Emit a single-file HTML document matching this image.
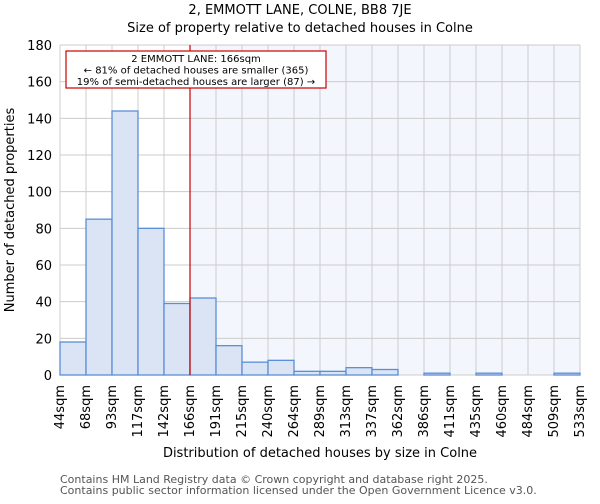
<!DOCTYPE html>
<html><head><meta charset="utf-8"><style>
body{margin:0;background:#fff;font-family:"DejaVu Sans","Liberation Sans",sans-serif;}
</style></head><body>
<svg id="chart" width="600" height="500" xmlns="http://www.w3.org/2000/svg" font-family="DejaVu Sans, Liberation Sans, sans-serif">
<text x="300" y="14" text-anchor="middle" font-size="13">2, EMMOTT LANE, COLNE, BB8 7JE</text>
<text x="300" y="32" text-anchor="middle" font-size="13">Size of property relative to detached houses in Colne</text>
<g id="plot"></g>
<text x="320" y="457" text-anchor="middle" font-size="13">Distribution of detached houses by size in Colne</text>
<text transform="translate(14,210) rotate(-90)" text-anchor="middle" font-size="13">Number of detached properties</text>
<text x="60" y="483" font-size="11" fill="#555">Contains HM Land Registry data © Crown copyright and database right 2025.</text>
<text x="60" y="494" font-size="11" fill="#555">Contains public sector information licensed under the Open Government Licence v3.0.</text>
</svg>
<script>
const categories=["44sqm","68sqm","93sqm","117sqm","142sqm","166sqm","191sqm","215sqm","240sqm","264sqm","289sqm","313sqm","337sqm","362sqm","386sqm","411sqm","435sqm","460sqm","484sqm","509sqm","533sqm"];
const values=[18,85,144,80,39,42,16,7,8,2,2,4,3,0,1,0,1,0,0,1];
const yTicks=[0,20,40,60,80,100,120,140,160,180];
const markerIndex=5;
const NS="http://www.w3.org/2000/svg";
const x0=60,x1=580,yTop=45,yBot=375,yMax=180;
const bw=(x1-x0)/values.length;
const xs=i=>x0+i*bw;
const ys=v=>yBot-(v/yMax)*(yBot-yTop);
const g=document.getElementById('plot');
function mk(t,a){const e=document.createElementNS(NS,t);for(const k in a)e.setAttribute(k,a[k]);g.appendChild(e);return e;}
let e;
e=mk('rect',{x:xs(markerIndex),y:yTop,width:x1-xs(markerIndex),height:yBot-yTop,fill:'#f3f6fd'});


yTicks.forEach(t=>{
 e=mk('line',{x1:x0,x2:x1,y1:ys(t),y2:ys(t),stroke:'#cccccc','stroke-width':1});
 
 
 e=mk('text',{x:x0-8,y:ys(t)+5,'text-anchor':'end','font-size':13});
 e.textContent=t;
 
 
});
categories.forEach((c,i)=>{
 e=mk('line',{x1:xs(i),x2:xs(i),y1:yTop,y2:yBot,stroke:'#cccccc','stroke-width':1});
 
 
 const tx=xs(i)+4;
 e=mk('text',{x:tx,y:yBot+10,'text-anchor':'end','font-size':13,transform:`rotate(-90 ${tx} ${yBot+10})`});
 e.textContent=c;
 
 
});
values.forEach((v,i)=>{
 if(v<=0)return;
 e=mk('rect',{x:xs(i),y:ys(v),width:bw,height:yBot-ys(v),fill:'#dae4f4',stroke:'#5a8fd6','stroke-width':1.3});
 
 
});
e=mk('line',{x1:xs(markerIndex),x2:xs(markerIndex),y1:yTop,y2:yBot,stroke:'#cc0000','stroke-width':1.2});


e=mk('rect',{x:66,y:51,width:260,height:37,fill:'#fff',stroke:'#cc0000','stroke-width':1.2});


["2 EMMOTT LANE: 166sqm","← 81% of detached houses are smaller (365)","19% of semi-detached houses are larger (87) →"].forEach((s,k)=>{
 e=mk('text',{x:196,y:62+k*11.5,'text-anchor':'middle','font-size':10});
 e.textContent=s;
 
 
});
</script>
</body></html>
